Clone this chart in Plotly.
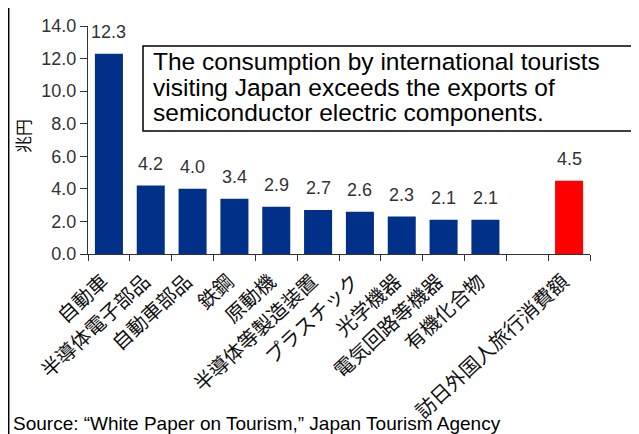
import plotly.graph_objects as go

categories = ["自動車", "半導体電子部品", "自動車部品", "鉄鋼", "原動機", "半導体等製造装置",
              "プラスチック", "光学機器", "電気回路等機器", "有機化合物", " ", "訪日外国人旅行消費額"]
values = [12.3, 4.2, 4.0, 3.4, 2.9, 2.7, 2.6, 2.3, 2.1, 2.1, None, 4.5]
bar_colors = ["#003087"] * 11 + ["#ff0000"]
y_ticks = [0, 2, 4, 6, 8, 10, 12, 14]
note_lines = [
    "The consumption by international tourists",
    "visiting Japan exceeds the exports of",
    "semiconductor electric components.",
]

FONT = "Liberation Sans, Arial, Noto Sans CJK JP"
JP = "Noto Sans CJK JP"

# the page body adds an 8px margin, so the figure is 8px smaller and
# positions below are in window pixels; plot area spans x 88..590, y 26..254
def px(x):
    return (x - 88) / 502.0


def py(y):
    return (254 - y) / 228.0


fig = go.Figure()
fig.add_trace(
    go.Bar(
        x=categories,
        y=values,
        marker=dict(color=bar_colors, line=dict(width=0)),
        hoverinfo="x+y",
    )
)

# value labels above bars
for cat, val in zip(categories, values):
    if val is None:
        continue
    fig.add_annotation(
        x=cat, y=val, text="%.1f" % val, showarrow=False,
        xanchor="center", yanchor="bottom", yshift=10,
        font=dict(size=18, color="#333", family=FONT),
    )

# note box
fig.add_shape(type="rect", xref="paper", yref="paper",
              x0=px(143), x1=px(660), y0=py(131), y1=py(46),
              line=dict(color="#000", width=1.5), fillcolor="#fff", layer="above")
for i, line in enumerate(note_lines):
    fig.add_annotation(
        xref="paper", yref="paper", x=px(151), y=py(61 + 26 * i),
        xanchor="left", yanchor="middle", text=line, showarrow=False,
        font=dict(size=24.5, color="#000", family=FONT),
    )

fig.add_annotation(
    xref="paper", yref="paper", x=px(23), y=py(136), textangle=-90,
    xanchor="center", yanchor="middle",
    text="兆円", showarrow=False, font=dict(size=17, color="#111", family=JP),
)

fig.add_annotation(
    xref="paper", yref="paper", x=px(11), y=py(423), xanchor="left", yanchor="middle",
    text="Source: “White Paper on Tourism,” Japan Tourism Agency",
    showarrow=False, font=dict(size=19, color="#000", family=FONT),
)

fig.add_shape(type="line", xref="paper", yref="paper", x0=px(8.7), x1=px(8.7), y0=py(440), y1=py(-5),
              line=dict(color="#000", width=1.5))

fig.update_layout(
    width=631,
    height=426,
    margin=dict(l=80, r=49, t=18, b=180, autoexpand=False),
    paper_bgcolor="#fff",
    plot_bgcolor="#fff",
    font=dict(family=FONT, color="#333", size=16),
    showlegend=False,
    bargap=0.33,
    xaxis=dict(
        type="category", tickangle=-43, tickson="boundaries", automargin=False,
        ticks="outside", ticklen=6, tickcolor="#333",
        ticklabelstandoff=7, ticklabelshift=-6,
        showline=True, linecolor="#333", linewidth=1,
        tickfont=dict(size=20, color="#111", family=JP),
    ),
    yaxis=dict(
        range=[0, 14], tickvals=y_ticks, tickformat=".1f", automargin=False,
        ticks="outside", ticklen=7, tickcolor="#333",
        showline=True, linecolor="#333", linewidth=1, showgrid=False, zeroline=False,
        tickfont=dict(size=18, color="#333", family=FONT),
    ),
)

fig.write_html("out.html")
